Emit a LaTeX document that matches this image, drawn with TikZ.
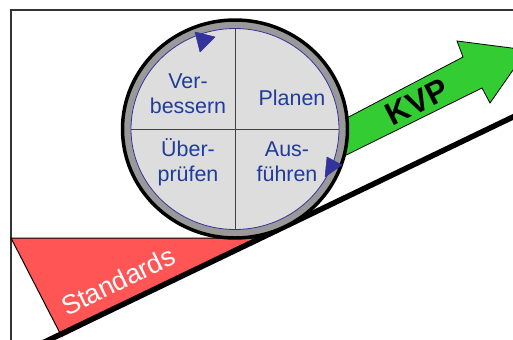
\documentclass[tikz,border=0pt]{standalone}
\usepackage{fontspec}
\setmainfont{Liberation Sans}
\definecolor{redfill}{RGB}{255,85,85}
\definecolor{greenfill}{RGB}{51,204,51}
\definecolor{ringgray}{RGB}{153,153,153}
\definecolor{diskgray}{RGB}{221,221,221}
\definecolor{navy}{RGB}{51,51,153}
\definecolor{labelblue}{RGB}{30,60,155}
\begin{document}
\begin{tikzpicture}[x=1bp,y=1bp,
  lbl/.style={text=labelblue,font=\fontsize{21.5}{25}\selectfont,align=center,inner sep=0pt},
  tri/.style={fill=navy,draw=navy,line width=0.5pt,line join=round}]
\useasboundingbox (0,0) rectangle (513,339);
\clip (0,0) rectangle (513,339);
% frame
\coordinate (fl) at (11,-5);
\coordinate (ftl) at (11,329);
\coordinate (ftr) at (520,329);
\draw[line width=1.2pt,black!80] (fl) -- (ftl) -- (ftr);
% red triangle
\coordinate (ra) at (11,101);
\coordinate (rb) at (261,101);
\coordinate (rc) at (62,2);
\fill[redfill] (ra) -- (rb) -- (rc) -- cycle;
\draw[line width=1pt] (rb) -- (ra) -- (rc);
\node[text=white,rotate=26,font=\fontsize{27}{32}\selectfont,inner sep=0pt] (std) at (118,58) {Standards};
% slope line
\coordinate (s1) at (40,-5.2);
\coordinate (s2) at (530,230.2);
\draw[line width=5.5pt] (s1) -- (s2);
% green arrow
\coordinate (ga) at (320,207);
\coordinate (gb) at (463,282);
\coordinate (gc) at (457,298);
\coordinate (gt) at (527,289);
\coordinate (gd) at (490,236);
\coordinate (ge) at (482,251);
\coordinate (gf) at (320,171);
\draw[fill=greenfill,line width=0.8pt,line join=miter] (ga) -- (gb) -- (gc) -- (gt) -- (gd) -- (ge) -- (gf) -- cycle;
\node[rotate=27,font=\bfseries\fontsize{32}{38}\selectfont,inner sep=0pt] (kvp) at (417,237) {KVP};
% wheel
\coordinate (c) at (235,210);
\draw[fill=ringgray,line width=3.5pt] (c) ellipse [x radius=112.5,y radius=109];
\draw[fill=diskgray,draw=navy,line width=0.8pt] (c) ellipse [x radius=104,y radius=100.5];
\coordinate (vt) at (235,310.5);
\coordinate (vb) at (235,109.5);
\coordinate (hl) at (131,210);
\coordinate (hr) at (339,210);
\draw[line width=1pt,black!75] (vt) -- (vb) (hl) -- (hr);
% direction triangles
\coordinate (t1a) at (195,307);
\coordinate (t1b) at (215,302);
\coordinate (t1c) at (200,287);
\draw[tri] (t1a) -- (t1b) -- (t1c) -- cycle;
\coordinate (t2a) at (327,182);
\coordinate (t2b) at (342,174);
\coordinate (t2c) at (325,162);
\draw[tri] (t2a) -- (t2b) -- (t2c) -- cycle;
% labels
\node[lbl] (ver) at (188,245) {Ver-\\bessern};
\node[lbl] (plan) at (292,241) {Planen};
\node[lbl] (ueb) at (188,177) {Über-\\prüfen};
\node[lbl] (aus) at (287,177) {Aus-\\führen};
\end{tikzpicture}
\end{document}
